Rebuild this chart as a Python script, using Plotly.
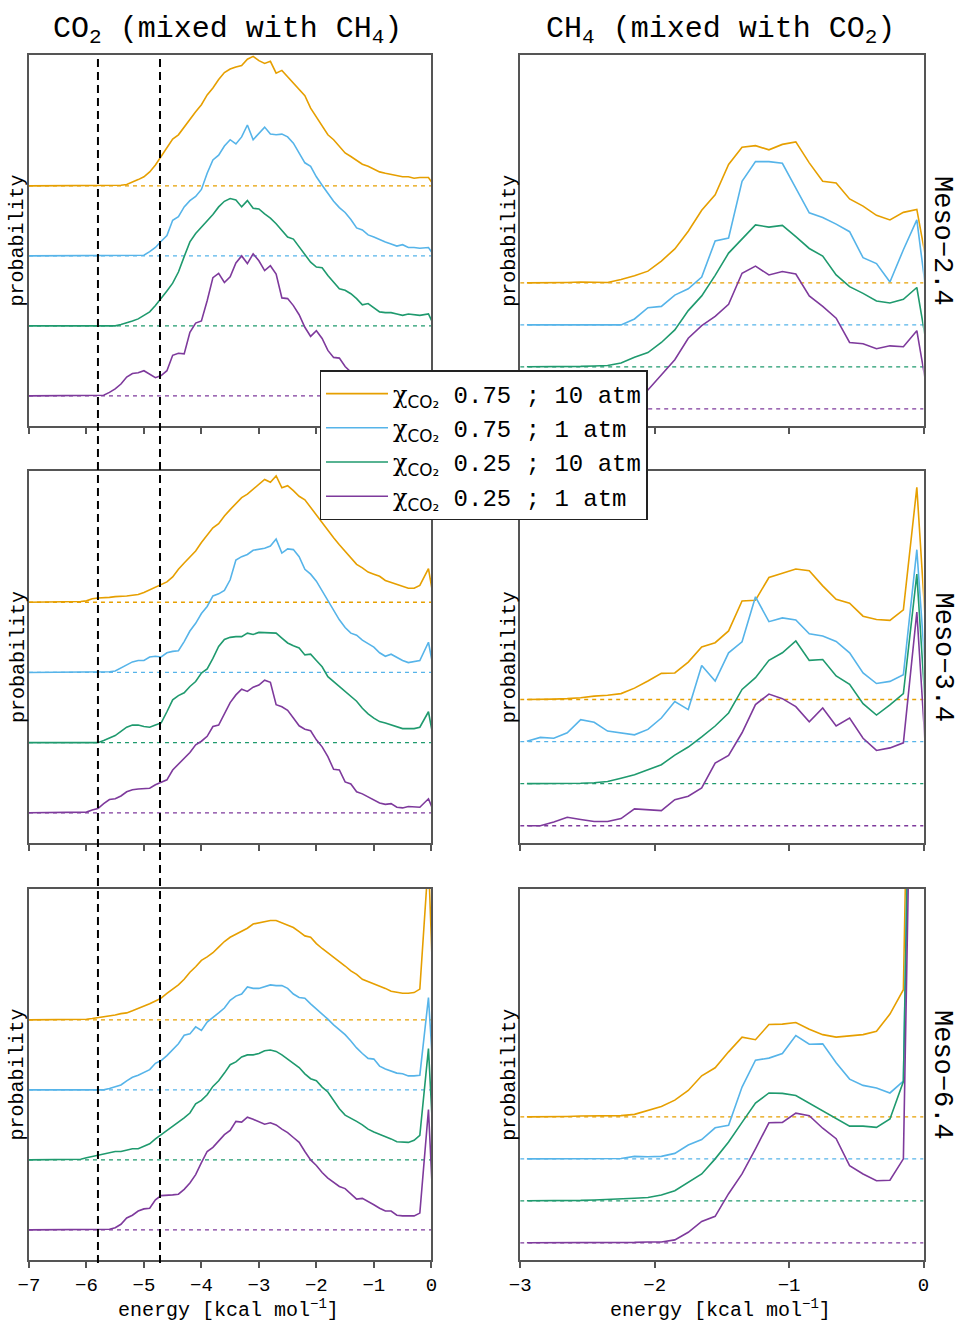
import plotly.graph_objects as go

W, H = 961, 1322

# ---- energy bins (kcal/mol) ----
E_LEFT = [round(-7.0 + 0.1 * k, 2) for k in range(69)] + [-0.05, 0.05]
E_RIGHT = [round(-2.95 + 0.1 * k, 2) for k in range(30)] + [0.05]

# ---- CO2 (mixed with CH4), Meso-2.4 ----
TL_OR = [0, 0, 0, 0, 0, 0, 0, 0, 0, 0, 0, 0, 0, 0, 0, 0,
         0.01, 0.02, 0.05, 0.09, 0.13, 0.20, 0.30, 0.42, 0.55, 0.67, 0.73, 0.84, 0.96, 1.06, 1.16, 1.30, 1.40, 1.52,
         1.62, 1.67, 1.70, 1.72, 1.81, 1.85, 1.79, 1.75, 1.78, 1.61, 1.65, 1.56, 1.47, 1.37, 1.29, 1.11, 0.98, 0.87,
         0.73, 0.66, 0.57, 0.47, 0.42, 0.36, 0.31, 0.28, 0.24, 0.20, 0.18, 0.16, 0.14, 0.13, 0.13, 0.11, 0.12,
         0.12, 0]
TL_BL = [0, 0, 0, 0, 0, 0, 0, 0, 0, 0, 0, 0, 0, 0, 0, 0, 0, 0, 0, 0.01,
         0.01, 0.06, 0.12, 0.21, 0.29, 0.51, 0.56, 0.70, 0.79, 0.85, 0.95, 1.18, 1.37, 1.44, 1.57, 1.66, 1.60, 1.70,
         1.87, 1.66, 1.75, 1.84, 1.74, 1.73, 1.74, 1.70, 1.61, 1.47, 1.33, 1.28, 1.13, 1.01, 0.90, 0.78, 0.69, 0.62,
         0.52, 0.40, 0.37, 0.30, 0.27, 0.23, 0.20, 0.17, 0.14, 0.16, 0.12, 0.12, 0.11,
         0.12, 0]
TL_GR = [0, 0, 0, 0, 0, 0, 0, 0, 0, 0, 0, 0, 0, 0, 0, 0,
         0.02, 0.04, 0.07, 0.10, 0.15, 0.20, 0.29, 0.39, 0.50, 0.61, 0.77, 0.99, 1.20, 1.32, 1.41, 1.49, 1.59, 1.70,
         1.78, 1.82, 1.80, 1.70, 1.79, 1.68, 1.67, 1.60, 1.54, 1.46, 1.37, 1.27, 1.24, 1.13, 1.01, 0.91, 0.84, 0.83,
         0.72, 0.63, 0.53, 0.51, 0.46, 0.39, 0.30, 0.32, 0.26, 0.20, 0.19, 0.19, 0.17, 0.15, 0.17, 0.16, 0.15,
         0.17, 0]
TL_PU = [0, 0, 0, 0, 0, 0, 0, 0, 0, 0, 0, 0, 0,
         0.01, 0.05, 0.10, 0.17, 0.27, 0.32, 0.33, 0.36, 0.31, 0.26, 0.29, 0.36, 0.58, 0.61, 0.60, 0.91, 1.04, 1.07,
         1.36, 1.69, 1.75, 1.62, 1.70, 1.90, 2.00, 1.89, 2.03, 1.93, 1.79, 1.86, 1.74, 1.40, 1.39, 1.29, 1.16, 0.98,
         0.85, 0.93, 0.82, 0.65, 0.55, 0.54, 0.42, 0.34, 0.31, 0.31, 0.27, 0.24, 0.20, 0.18, 0.15, 0.13, 0.12, 0.12,
         0.10, 0.10,
         0.09, 0]

# ---- CO2, Meso-3.4 ----
ML_OR = [0, 0, 0, 0, 0, 0, 0, 0, 0,
         0.01, 0.02, 0.05, 0.06, 0.06, 0.07, 0.08, 0.08, 0.09, 0.10, 0.11, 0.14, 0.18, 0.21, 0.25, 0.29, 0.36, 0.47,
         0.56, 0.64, 0.73, 0.85, 0.96, 1.06, 1.12, 1.23, 1.32, 1.41, 1.49, 1.54, 1.61, 1.67, 1.75, 1.71, 1.80, 1.63,
         1.66, 1.59, 1.51, 1.46, 1.35, 1.25, 1.13, 1.02, 0.92, 0.82, 0.73, 0.64, 0.54, 0.49, 0.43, 0.40, 0.37, 0.31,
         0.28, 0.25, 0.22, 0.20, 0.20, 0.24,
         0.48, 0]
ML_BL = [0, 0, 0, 0, 0, 0, 0, 0, 0, 0, 0, 0, 0, 0,
         0.01, 0.02, 0.06, 0.10, 0.15, 0.17, 0.17, 0.22, 0.23, 0.22, 0.28, 0.30, 0.31, 0.44, 0.59, 0.70, 0.84, 0.94,
         1.09, 1.12, 1.17, 1.32, 1.60, 1.65, 1.68, 1.74, 1.75, 1.77, 1.80, 1.90, 1.70, 1.76, 1.75, 1.65, 1.47, 1.40,
         1.30, 1.16, 1.01, 0.88, 0.75, 0.64, 0.56, 0.53, 0.46, 0.41, 0.36, 0.28, 0.23, 0.26, 0.21, 0.17, 0.14, 0.16,
         0.17,
         0.43, 0]
ML_GR = [0, 0, 0, 0, 0, 0, 0, 0, 0, 0, 0, 0, 0,
         0.03, 0.07, 0.10, 0.16, 0.22, 0.25, 0.25, 0.23, 0.22, 0.25, 0.28, 0.44, 0.61, 0.67, 0.71, 0.80, 0.87, 0.99,
         1.05, 1.20, 1.37, 1.47, 1.50, 1.51, 1.51, 1.56, 1.54, 1.57, 1.57, 1.57, 1.56, 1.49, 1.42, 1.38, 1.35, 1.25,
         1.26, 1.17, 1.08, 0.94, 0.87, 0.80, 0.72, 0.66, 0.59, 0.49, 0.41, 0.35, 0.30, 0.28, 0.25, 0.22, 0.20, 0.20,
         0.20, 0.22,
         0.44, 0]
ML_PU = [0, 0, 0, 0, 0, 0, 0, 0, 0, 0,
         0.01, 0.04, 0.06, 0.13, 0.19, 0.20, 0.24, 0.30, 0.33, 0.34, 0.34, 0.35, 0.40, 0.43, 0.47, 0.61, 0.69, 0.78,
         0.86, 0.97, 1.02, 1.09, 1.23, 1.25, 1.42, 1.57, 1.68, 1.76, 1.73, 1.79, 1.82, 1.89, 1.86, 1.54, 1.51, 1.46,
         1.35, 1.24, 1.19, 1.17, 1.04, 0.94, 0.80, 0.62, 0.61, 0.44, 0.41, 0.30, 0.27, 0.23, 0.19, 0.14, 0.12, 0.13,
         0.08, 0.07, 0.09, 0.08, 0.08,
         0.20, 0]

# ---- CO2, Meso-6.4 ----
BL_OR = [0, 0, 0, 0, 0, 0, 0, 0,
         0.01, 0.01, 0.01, 0.02, 0.03, 0.04, 0.06, 0.07, 0.09, 0.10, 0.13, 0.16, 0.20, 0.23, 0.27, 0.31, 0.38, 0.44,
         0.50, 0.58, 0.68, 0.76, 0.85, 0.90, 0.96, 1.04, 1.12, 1.18, 1.22, 1.26, 1.31, 1.37, 1.39, 1.40, 1.42, 1.42,
         1.39, 1.35, 1.32, 1.26, 1.20, 1.18, 1.09, 1.02, 0.96, 0.90, 0.84, 0.77, 0.70, 0.65, 0.58, 0.55, 0.52, 0.48,
         0.45, 0.41, 0.39, 0.38, 0.38, 0.39, 0.44,
         2.30, 0]
BL_BL = [0, 0, 0, 0, 0, 0, 0, 0, 0, 0, 0, 0, 0, 0,
         0.02, 0.05, 0.07, 0.13, 0.18, 0.21, 0.25, 0.29, 0.38, 0.42, 0.49, 0.58, 0.66, 0.78, 0.80, 0.90, 0.85, 0.97,
         1.03, 1.10, 1.17, 1.28, 1.34, 1.37, 1.47, 1.45, 1.45, 1.47, 1.50, 1.49, 1.49, 1.45, 1.37, 1.32, 1.31, 1.23,
         1.16, 1.09, 1.01, 0.93, 0.86, 0.79, 0.70, 0.60, 0.52, 0.45, 0.44, 0.34, 0.30, 0.27, 0.24, 0.23, 0.20, 0.20,
         0.21,
         1.32, 0]
BL_GR = [0, 0, 0, 0, 0, 0, 0, 0,
         0.01, 0.01, 0.03, 0.05, 0.07, 0.08, 0.10, 0.12, 0.12, 0.14, 0.16, 0.16, 0.20, 0.23, 0.30, 0.36, 0.41, 0.47,
         0.54, 0.60, 0.67, 0.80, 0.85, 0.93, 1.05, 1.13, 1.24, 1.36, 1.40, 1.47, 1.50, 1.50, 1.52, 1.56, 1.57, 1.55,
         1.50, 1.44, 1.37, 1.32, 1.23, 1.16, 1.13, 1.04, 0.97, 0.85, 0.73, 0.64, 0.60, 0.55, 0.50, 0.44, 0.40, 0.37,
         0.34, 0.30, 0.26, 0.25, 0.25, 0.28, 0.35,
         1.59, 0]
BL_PU = [0, 0, 0, 0, 0, 0, 0, 0, 0, 0, 0, 0, 0, 0,
         0.01, 0.03, 0.08, 0.17, 0.21, 0.27, 0.30, 0.31, 0.43, 0.49, 0.49, 0.50, 0.51, 0.58, 0.67, 0.79, 0.96, 1.12,
         1.18, 1.27, 1.36, 1.42, 1.55, 1.54, 1.61, 1.58, 1.55, 1.51, 1.53, 1.50, 1.44, 1.39, 1.32, 1.25, 1.12, 1.00,
         0.92, 0.82, 0.74, 0.68, 0.62, 0.59, 0.51, 0.44, 0.45, 0.41, 0.36, 0.31, 0.27, 0.27, 0.21, 0.20, 0.20, 0.20,
         0.24,
         1.72, 0]

# ---- CH4 (mixed with CO2) ----
TR_OR = [0, 0, 0, 0.01, 0.02, 0.02, 0.01, 0.08, 0.17, 0.28, 0.52, 0.81, 1.23, 1.73, 2.10, 2.82, 3.23, 3.27, 3.17, 3.30,
         3.36, 2.86, 2.42, 2.38, 2.00, 1.83, 1.61, 1.50, 1.68, 1.75, 0]
TR_BL = [0, 0, 0, 0, 0, 0, 0, 0, 0.14, 0.41, 0.44, 0.71, 0.86, 1.14, 2.00, 2.07, 3.42, 3.89, 3.89, 3.85,
         3.26, 2.67, 2.56, 2.40, 2.22, 1.60, 1.46, 1.02, 1.79, 2.50, 0]
TR_GR = [0, 0, 0, 0, 0.01, 0.02, 0.03, 0.09, 0.23, 0.34, 0.58, 0.88, 1.34, 1.69, 2.18, 2.71, 3.04, 3.38, 3.33, 3.37,
         3.10, 2.82, 2.64, 2.19, 1.91, 1.75, 1.57, 1.52, 1.61, 1.89, 0]
TR_PU = [0, 0, 0, 0, 0, 0, 0, 0.04, 0.15, 0.45, 0.81, 1.17, 1.68, 1.98, 2.20, 2.49, 3.23, 3.40, 3.19, 3.27,
         3.21, 2.69, 2.44, 2.16, 1.58, 1.55, 1.43, 1.50, 1.48, 1.86, 0]

MR_OR = [0, 0, 0.01, 0.02, 0.04, 0.08, 0.10, 0.14, 0.27, 0.44, 0.62, 0.63, 0.89, 1.25, 1.35, 1.63, 2.34, 2.36, 2.90,
         3.00, 3.10, 3.06, 2.70, 2.38, 2.29, 1.98, 1.90, 1.88, 2.13, 5.04, 0]
MR_BL = [0.01, 0.10, 0.08, 0.21, 0.52, 0.46, 0.25, 0.21, 0.16, 0.29, 0.56, 0.95, 0.76, 1.81, 1.44, 2.11, 2.37, 3.44,
         2.85, 2.94, 2.89, 2.56, 2.51, 2.38, 2.11, 1.63, 1.38, 1.43, 1.59, 4.56, 0]
MR_GR = [0, 0, 0, 0, 0.01, 0.02, 0.05, 0.13, 0.21, 0.33, 0.45, 0.68, 0.87, 1.11, 1.37, 1.68, 2.24, 2.52, 2.93, 3.11,
         3.39, 2.93, 2.95, 2.56, 2.36, 1.90, 1.63, 1.87, 2.14, 4.98, 0]
MR_PU = [0, 0, 0.09, 0.20, 0.15, 0.10, 0.10, 0.17, 0.40, 0.38, 0.36, 0.62, 0.70, 0.90, 1.49, 1.67, 2.21, 2.88, 3.13,
         3.02, 2.83, 2.47, 2.80, 2.37, 2.56, 2.08, 1.79, 1.85, 1.97, 5.08, 0]

BR_OR = [0, 0, 0, 0.01, 0.02, 0.02, 0.02, 0.03, 0.06, 0.15, 0.25, 0.40, 0.63, 0.98, 1.17, 1.55, 1.90, 1.84, 2.20,
         2.21, 2.25, 2.09, 1.96, 1.90, 1.93, 1.96, 2.04, 2.45, 3.03, 20, 20]
BR_BL = [0, 0, 0, 0, 0, 0, 0.01, 0.01, 0.06, 0.05, 0.06, 0.13, 0.33, 0.46, 0.74, 0.80, 1.71, 2.35, 2.40, 2.51,
         2.94, 2.73, 2.74, 2.29, 1.90, 1.75, 1.69, 1.57, 1.85, 20, 20]
BR_GR = [0, 0, 0, 0, 0.01, 0.02, 0.03, 0.04, 0.06, 0.08, 0.14, 0.24, 0.43, 0.64, 1.00, 1.40, 1.87, 2.33, 2.57, 2.56,
         2.51, 2.33, 2.13, 1.95, 1.78, 1.78, 1.75, 1.95, 2.84, 20, 20]
BR_PU = [0, 0, 0, 0, 0, 0, 0, 0, 0.01, 0.02, 0.02, 0.07, 0.25, 0.51, 0.63, 1.17, 1.64, 2.24, 2.86, 2.87, 3.09,
         3.03, 2.73, 2.48, 1.84, 1.64, 1.48, 1.49, 2.00, 20, 20]

SERIES = ["0.75 ; 10 atm", "0.75 ; 1 atm", "0.25 ; 10 atm", "0.25 ; 1 atm"]
COLORS = ["#E69F00", "#56B4E9", "#1F9A6E", "#7E3A9C"]
OFFSETS = [3, 2, 1, 0]
ROW_LABELS = ["Meso−2.4", "Meso−3.4", "Meso−6.4"]
COL_TITLES = ["CO<sub>2</sub> (mixed with CH<sub>4</sub>)", "CH<sub>4</sub> (mixed with CO<sub>2</sub>)"]
DIVIDERS = [-5.80, -4.72]
LEFT_TICKS = [-7, -6, -5, -4, -3, -2, -1, 0]
RIGHT_TICKS = [-3, -2, -1, 0]

PANELS = [
    (E_LEFT, [TL_OR, TL_BL, TL_GR, TL_PU]),
    (E_RIGHT, [TR_OR, TR_BL, TR_GR, TR_PU]),
    (E_LEFT, [ML_OR, ML_BL, ML_GR, ML_PU]),
    (E_RIGHT, [MR_OR, MR_BL, MR_GR, MR_PU]),
    (E_LEFT, [BL_OR, BL_BL, BL_GR, BL_PU]),
    (E_RIGHT, [BR_OR, BR_BL, BR_GR, BR_PU]),
]

FONT = "Liberation Mono"
AXC = "#555555"

# horizontal placement: the page shows the figure at an offset and slightly narrower
OX, PW = 10.0, 945.5


def px(x):
    return (x - OX) / PW


def py(y):
    return 1 - y / H


XDOM = [[px(28), px(431)], [px(520), px(924)]]
YDOM = [[py(426), py(55)], [py(843), py(471)], [py(1260), py(889)]]
XRANGE = [[-7, 0], [-3, 0]]
YRANGE = [[-0.43, 4.87], [-0.41, 8.43]]


def fit(vals, n):
    vals = list(vals)
    if len(vals) < n:
        vals = [0] * (n - len(vals)) + vals
    elif len(vals) > n:
        vals = vals[len(vals) - n:]
    return vals


def legend_name(s):
    return ("<span style='font-family:DejaVu Serif;font-size:24px'>χ</span>"
            "<sub><span style='font-family:DejaVu Sans'>CO₂</span></sub>\u00a0" + s)


fig = go.Figure()
layout = {}
for p, (xs, curves) in enumerate(PANELS, start=1):
    row, col = (p - 1) // 2, (p - 1) % 2
    xr = "x" if p == 1 else f"x{p}"
    yr = "y" if p == 1 else f"y{p}"
    for i in range(4):
        fig.add_trace(go.Scatter(
            x=XRANGE[col], y=[OFFSETS[i], OFFSETS[i]], mode="lines",
            line=dict(color=COLORS[i], width=1.3, dash="4px,4px"),
            xaxis=xr, yaxis=yr, showlegend=False, hoverinfo="skip"))
    for i in range(4):
        vals = fit(curves[i], len(xs))
        fig.add_trace(go.Scatter(
            x=xs, y=[v + OFFSETS[i] for v in vals], mode="lines",
            line=dict(color=COLORS[i], width=1.6),
            xaxis=xr, yaxis=yr, name=legend_name(SERIES[i]),
            showlegend=(p == 1), legendrank=i + 1))
    xkey = "xaxis" if p == 1 else f"xaxis{p}"
    ykey = "yaxis" if p == 1 else f"yaxis{p}"
    layout[xkey] = dict(
        domain=XDOM[col], range=XRANGE[col], anchor=yr,
        showgrid=False, zeroline=False, showline=True, linecolor=AXC, linewidth=1.5, mirror=True,
        ticks="outside", ticklen=6, tickwidth=1.5, tickcolor=AXC,
        tickmode="array", tickvals=(LEFT_TICKS if col == 0 else RIGHT_TICKS),
        showticklabels=(row == 2), tickfont=dict(family=FONT, size=19, color="black"))
    layout[ykey] = dict(
        domain=YDOM[row], range=YRANGE[col], anchor=xr,
        showgrid=False, zeroline=False, showline=True, linecolor=AXC, linewidth=1.5, mirror=True,
        showticklabels=False, ticks="")

fig.update_layout(**layout)

annotations = []
for col, t in enumerate(COL_TITLES):
    annotations.append(dict(text=t, x=px([227, 721][col]), y=py(30), xref="paper", yref="paper",
                            xanchor="center", yanchor="middle", showarrow=False,
                            font=dict(family=FONT, size=30, color="black")))
for row, lab in enumerate(ROW_LABELS):
    yc = (YDOM[row][0] + YDOM[row][1]) / 2
    annotations.append(dict(text=lab, x=px(943), y=yc, xref="paper", yref="paper", textangle=90,
                            xanchor="center", yanchor="middle", showarrow=False,
                            font=dict(family=FONT, size=27, color="black")))
    for xc in [px(17), px(509)]:
        annotations.append(dict(text="probability", x=xc, y=yc, xref="paper", yref="paper", textangle=-90,
                                xanchor="center", yanchor="middle", showarrow=False,
                                font=dict(family=FONT, size=20, color="black")))
for xc in [px(228), px(721)]:
    annotations.append(dict(text="energy [kcal mol<sup>−1</sup>]", x=xc, y=py(1309), xref="paper", yref="paper",
                            xanchor="center", yanchor="middle", showarrow=False,
                            font=dict(family=FONT, size=20, color="black")))

shapes = []
for d in DIVIDERS:
    shapes.append(dict(type="line", xref="x5", yref="paper", x0=d, x1=d, y0=py(1263), y1=YDOM[0][1],
                       line=dict(color="black", width=2, dash="8px,5px"), layer="above"))

fig.update_layout(
    width=W, height=H, autosize=False,
    margin=dict(l=0, r=0, t=0, b=0),
    paper_bgcolor="white", plot_bgcolor="white",
    annotations=annotations, shapes=shapes,
    showlegend=True,
    legend=dict(x=px(319), y=py(370), xanchor="left", yanchor="top",
                bgcolor="white", bordercolor="#222222", borderwidth=1.5,
                font=dict(family=FONT, size=24, color="black"),
                itemwidth=62, tracegroupgap=0, traceorder="normal"),
)

fig.write_html("out.html")
